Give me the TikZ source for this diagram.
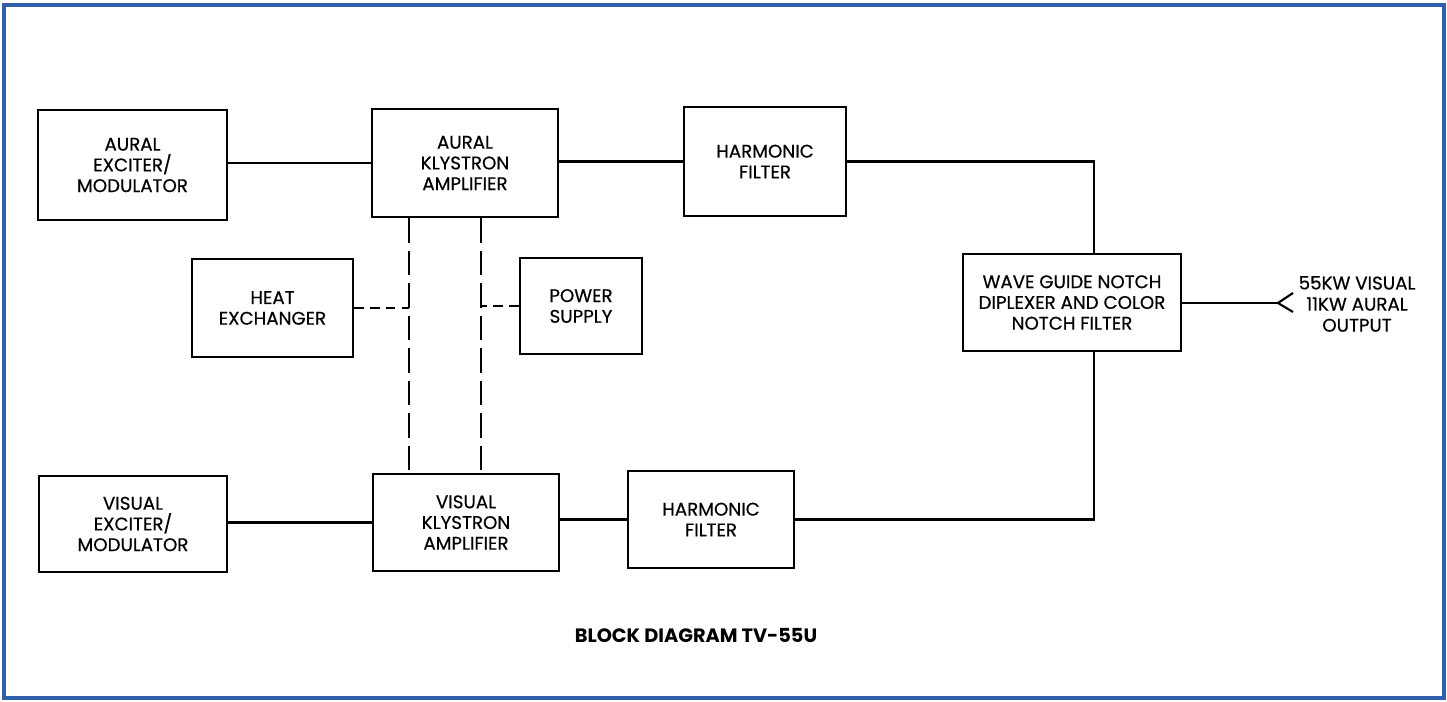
\documentclass[tikz,border=0pt]{standalone}
\usepackage{fontspec}
\setmainfont{Poppins}
\newfontfamily\boxfont{Poppins}[FakeBold=0.5]
\definecolor{frameblue}{RGB}{48,96,172}
\tikzset{
  box/.style={draw=black, line width=1.3pt, fill=white, align=center, inner sep=0pt,
    font=\boxfont\fontsize{10.4}{11.8}\selectfont},
  wire/.style={draw=black, line width=1.2pt},
  vdash/.style={draw=black, line width=1.2pt, dash pattern=on 14pt off 4.5pt},
  hdash/.style={draw=black, line width=1.2pt, dash pattern=on 5.5pt off 3.5pt},
  frame/.style={draw=frameblue, line width=2.3pt},
  lbl/.style={align=center, inner sep=0pt, font=\boxfont\fontsize{10.4}{12}\selectfont},
  ttl/.style={inner sep=0pt, font=\fontsize{11}{12}\selectfont\bfseries}
}
\begin{document}
\begin{tikzpicture}[x=0.02cm, y=-0.02cm]
\useasboundingbox (0,0) rectangle (1447,702);
\draw[frame] (4,5) rectangle (1444,698);

\node[box, minimum width=3.78cm, minimum height=2.2cm] (ae) at (132.5,165) {AURAL\\EXCITER/\\MODULATOR};
\node[box, minimum width=3.72cm, minimum height=2.16cm] (ak) at (465,163) {AURAL\\KLYSTRON\\AMPLIFIER};
\node[box, minimum width=3.24cm, minimum height=2.18cm] (hf1) at (765,161.5) {HARMONIC\\FILTER};
\node[box, minimum width=3.22cm, minimum height=1.96cm] (he) at (272.5,308) {HEAT\\EXCHANGER};
\node[box, minimum width=2.44cm, minimum height=1.92cm] (ps) at (581,306) {POWER\\SUPPLY};
\node[box, minimum width=4.36cm, minimum height=1.94cm] (wg) at (1072,302.5) {WAVE GUIDE NOTCH\\DIPLEXER AND COLOR\\NOTCH FILTER};
\node[box, minimum width=3.76cm, minimum height=1.92cm] (ve) at (133,524) {VISUAL\\EXCITER/\\MODULATOR};
\node[box, minimum width=3.72cm, minimum height=1.94cm] (vk) at (466,522.5) {VISUAL\\KLYSTRON\\AMPLIFIER};
\node[box, minimum width=3.32cm, minimum height=1.94cm] (hf2) at (711,519.5) {HARMONIC\\FILTER};

\node[lbl] (out) at (1357,304) {55KW VISUAL\\11KW AURAL\\OUTPUT};
\node[ttl] (title) at (696,636) {BLOCK DIAGRAM TV-55U};

% junction coordinates
\coordinate (jx) at (1094,0);
\coordinate (d1) at (409,0);
\coordinate (d2) at (481,0);
\coordinate (oend) at (1278,303);
\coordinate (oa) at (1293,293);
\coordinate (ob) at (1293,312);

% solid connectors
\draw[wire] (ae.east |- ak.west) -- (ak.west);
\draw[wire] (ak.east |- hf1.west) -- (hf1.west);
\draw[wire] (hf1.east) -| (jx |- wg.north);
\draw[wire] (ve.east |- vk.west) -- (vk.west);
\draw[wire] (vk.east |- hf2.west) -- (hf2.west);
\draw[wire] (hf2.east) -| (jx |- wg.south);
\draw[wire] (wg.east |- oend) -- (oend);
\draw[wire] (oa) -- (oend) -- (ob);

% dashed connectors
\draw[vdash] (d1 |- ak.south) -- (d1 |- vk.north);
\draw[vdash] (d2 |- ak.south) -- (d2 |- vk.north);
\draw[hdash] (he.east) -- (d1 |- he.east);
\draw[hdash] (ps.west) -- (d2 |- ps.west);
\end{tikzpicture}
\end{document}
